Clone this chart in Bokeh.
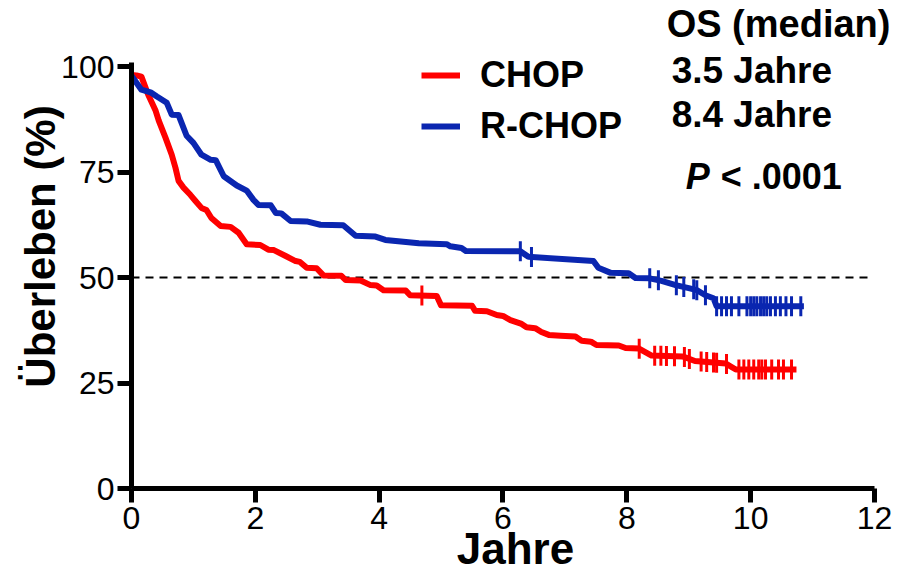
import numpy as np
from bokeh.plotting import figure
from bokeh.models import Range1d, FixedTicker, Label, Legend, LegendItem
from bokeh.embed import file_html
from bokeh.resources import INLINE

FONT = "Liberation Sans"

# CHOP (red) Kaplan-Meier curve
chop_t = [0.0, 0.08, 0.16, 0.27, 0.39, 0.44, 0.55, 0.65, 0.71, 0.76, 0.84, 0.95, 1.03, 1.13, 1.21,
          1.29, 1.44, 1.6, 1.73, 1.86, 2.08, 2.21, 2.3, 2.49, 2.65, 2.72, 2.83, 2.99, 3.1, 3.39,
          3.46, 3.7, 3.86, 3.96, 4.07, 4.43, 4.5, 4.93, 5.0, 5.5, 5.55, 5.74, 5.9, 6.0, 6.12,
          6.3, 6.38, 6.52, 6.62, 6.74, 6.93, 7.17, 7.27, 7.42, 7.51, 7.87, 7.98, 8.19, 8.4, 8.9,
          9.1, 9.6, 9.76, 10.74]
chop_s = [98.0, 97.9, 97.6, 93.3, 89.5, 87.2, 83.1, 79.1, 76.0, 72.9, 71.3, 69.6, 68.2, 66.5, 66.0,
          64.1, 62.2, 62.0, 60.6, 57.9, 57.7, 56.6, 56.5, 55.1, 53.9, 53.7, 52.3, 52.2, 50.5, 50.4,
          49.4, 49.3, 48.2, 48.1, 47.0, 46.9, 45.8, 45.6, 43.4, 43.3, 42.1, 42.0, 41.1, 40.9, 39.9,
          39.0, 38.2, 38.0, 37.1, 36.4, 36.2, 36.0, 35.0, 34.8, 34.0, 33.9, 33.3, 33.2, 31.5, 31.3,
          30.2, 29.6, 28.2, 28.2]
chop_cens = [4.69, 8.2, 8.45, 8.55, 8.64, 8.77, 8.93, 9.01, 9.2, 9.29, 9.4, 9.45, 9.61, 9.81, 9.89,
             9.97, 10.05, 10.13, 10.18, 10.24, 10.34, 10.45, 10.53, 10.66]

# R-CHOP (blue) Kaplan-Meier curve
rchop_t = [0.0, 0.16, 0.32, 0.41, 0.57, 0.65, 0.76, 0.89, 1.0, 1.13, 1.28, 1.36, 1.49, 1.7, 1.86,
           1.97, 2.05, 2.25, 2.33, 2.42, 2.57, 2.83, 3.05, 3.42, 3.62, 3.94, 4.1, 4.64, 5.09, 5.15,
           5.33, 5.4, 6.28, 6.41, 7.46, 7.54, 7.74, 8.03, 8.14, 8.37, 8.56, 8.79, 9.0, 9.13, 9.27,
           9.4, 9.45, 10.86]
rchop_s = [97.8, 94.5, 93.8, 92.9, 91.4, 88.6, 88.5, 83.6, 81.9, 79.1, 77.9, 77.8, 74.0, 71.8, 70.6,
           68.4, 67.2, 67.1, 65.3, 65.2, 63.4, 63.3, 62.5, 62.4, 59.9, 59.7, 58.9, 58.1, 57.9, 57.4,
           57.0, 56.3, 56.2, 54.9, 53.9, 52.3, 51.1, 51.0, 49.9, 49.8, 49.2, 48.2, 47.5, 47.0, 45.8,
           45.1, 43.2, 43.2]
rchop_cens = [6.28, 6.46, 8.37, 8.51, 8.8, 8.92, 9.08, 9.13, 9.27, 9.45, 9.53, 9.61, 9.69, 9.81, 9.94,
              10.0, 10.05, 10.1, 10.16, 10.21, 10.26, 10.32, 10.4, 10.48, 10.57, 10.66, 10.81]

x_ticks = [0, 2, 4, 6, 8, 10, 12]
y_ticks = [0, 25, 50, 75, 100]
median_line = [0, 11.9]   # dashed 50 % reference line, x extent
median_level = 50
group_names = ["CHOP", "R-CHOP"]
median_texts = ["OS (median)", "3.5 Jahre", "8.4 Jahre"]
p_text = ["P", "< .0001"]

RED = "#FF0000"
BLUE = "#0A26B0"

p = figure(width=901, height=576, x_range=Range1d(0, 12.404), y_range=Range1d(0, 114.7),
           output_backend="svg", toolbar_location=None,
           min_border_left=131, min_border_right=2, min_border_top=4, min_border_bottom=88)
p.outline_line_color = None
p.grid.visible = False
p.background_fill_color = "white"

for ax, ticks in ((p.xaxis[0], x_ticks), (p.yaxis[0], y_ticks)):
    ax.ticker = FixedTicker(ticks=ticks)
    ax.axis_line_width = 5
    ax.axis_line_color = "black"
    ax.major_tick_line_width = 5
    ax.major_tick_out = 14
    ax.major_tick_in = 0
    ax.minor_tick_line_color = None
    ax.major_label_text_font = FONT
    ax.major_label_text_font_size = "32px"
    ax.major_label_text_color = "black"
    ax.axis_label_text_font = FONT
    ax.axis_label_text_font_style = "bold"
    ax.axis_label_text_color = "black"

p.yaxis.bounds = (0, 101)
p.xaxis.bounds = (0, 12)
p.xaxis.axis_label = "Jahre"
p.yaxis.axis_label = "Überleben (%)"
p.xaxis.axis_label_text_font_size = "44px"
p.yaxis.axis_label_text_font_size = "42px"
p.xaxis.major_label_standoff = 4
p.yaxis.major_label_standoff = 3
p.xaxis.axis_label_standoff = -8
p.yaxis.axis_label_standoff = -6

p.line(median_line, [median_level, median_level], line_color="black", line_width=2,
       line_dash="8 6")

r_red = p.line(chop_t, chop_s, line_color=RED, line_width=6, line_join="round")
r_blue = p.line(rchop_t, rchop_s, line_color=BLUE, line_width=6, line_join="round")

p.scatter(chop_cens, np.interp(chop_cens, chop_t, chop_s), marker="dash", angle=np.pi / 2,
          size=20, line_width=3, line_color=RED)
p.scatter(rchop_cens, np.interp(rchop_cens, rchop_t, rchop_s), marker="dash", angle=np.pi / 2,
          size=20, line_width=3, line_color=BLUE)

legend = Legend(items=[LegendItem(label=group_names[0], renderers=[r_red]),
                       LegendItem(label=group_names[1], renderers=[r_blue])],
                location=(290, 341), padding=0, margin=0, spacing=9,
                glyph_width=39, glyph_height=40, label_height=40, label_standoff=20,
                label_text_font=FONT, label_text_font_style="bold", label_text_font_size="36px",
                label_text_color="black", label_text_baseline="middle",
                border_line_color=None, background_fill_alpha=0)
p.add_layout(legend)

def ypix(py):
    return (490 - py) / 4.22

def xpix(px):
    return (px - 133) / 61.9

for txt, px, py, fs in zip(median_texts, [668, 673, 673], [25, 72, 116], ["38px", "37px", "37px"]):
    p.add_layout(Label(x=xpix(px), y=ypix(py), text=txt, text_font=FONT, text_font_style="bold",
                       text_font_size=fs, text_color="black", text_baseline="middle",
                       text_align="left"))

p.add_layout(Label(x=xpix(687), y=ypix(178), text=p_text[0], text_font=FONT,
                   text_font_style="bold italic", text_font_size="36px", text_color="black",
                   text_baseline="middle", text_align="left"))
p.add_layout(Label(x=xpix(722), y=ypix(178), text=p_text[1], text_font=FONT,
                   text_font_style="bold", text_font_size="36px", text_color="black",
                   text_baseline="middle", text_align="left"))

open("out.html", "w").write(file_html(p, INLINE))
